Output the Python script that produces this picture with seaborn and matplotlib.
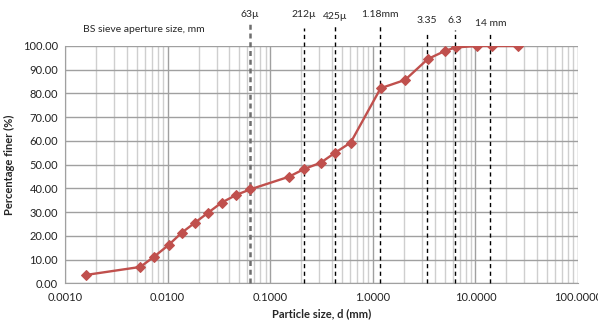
import matplotlib
matplotlib.use("Agg")
import matplotlib.pyplot as plt
import numpy as np
import pandas as pd
import seaborn as sns

# grading curve
size_mm = [0.00159, 0.00542, 0.00737, 0.0102, 0.0137, 0.0184, 0.0249, 0.0336,
           0.0464, 0.064, 0.152, 0.215, 0.31, 0.428, 0.608, 1.19, 2.06, 3.43,
           5.09, 6.43, 10.4, 14.4, 25.8]
pct_finer = [3.5, 6.9, 11.2, 16.1, 21.3, 25.5, 29.8, 34.0, 37.2, 39.6, 44.9,
             48.2, 50.8, 55.0, 59.3, 82.2, 85.7, 94.5, 98.0, 99.4, 100.0, 100.0, 100.0]

# BS sieve apertures marked with dashed lines
sieve_mm = [0.063, 0.212, 0.425, 1.18, 3.35, 6.3, 14.0]
sieve_labels = ["63\u00b5", "212\u00b5", "425\u00b5", "1.18mm", "3.35", "6.3", "14 mm"]
label_y = [1.132, 1.132, 1.125, 1.132, 1.107, 1.107, 1.093]
line_top = [1.101, 1.075, 1.088, 1.088, 1.062, 1.066, 1.053]

sns.set_style("white")
plt.rcParams['font.family'] = ['Lato', 'DejaVu Sans']

df = pd.DataFrame({"d": size_mm, "p": pct_finer})

fig = plt.figure(figsize=(5.98, 3.23), dpi=100)
ax = fig.add_axes([0.1087, 0.1229, 0.858, 0.7347])

ax.set_xscale("log")
ax.set_xlim(0.001, 100)
ax.set_ylim(0, 100)
ax.set_yticks(np.arange(0, 101, 10))
ax.yaxis.set_major_formatter(matplotlib.ticker.FormatStrFormatter("%.2f"))
ax.xaxis.set_major_formatter(matplotlib.ticker.FuncFormatter(lambda v, p: "%.4f" % v))
ax.xaxis.set_minor_locator(matplotlib.ticker.LogLocator(base=10, subs=np.arange(2, 10)))
ax.xaxis.set_minor_formatter(matplotlib.ticker.NullFormatter())

ax.grid(True, which="major", color="#a0a0a0", lw=1.0)
ax.grid(True, which="minor", axis="x", color="#cfcfcf", lw=1.0)
ax.set_axisbelow(True)
for s in ["top", "right"]:
    ax.spines[s].set_visible(False)
ax.spines["left"].set_color("#a0a0a0")
ax.spines["bottom"].set_color("#a0a0a0")
ax.tick_params(axis="both", labelsize=8, length=0, pad=5, labelcolor="#222222")
ax.tick_params(axis="x", which="major", length=4, color="#a0a0a0", direction="in", pad=6)

sns.lineplot(data=df, x="d", y="p", ax=ax, color="#c0504d", lw=1.7,
             marker="D", markersize=5, markeredgecolor="#c0504d", zorder=5)

for i, (d, lab) in enumerate(zip(sieve_mm, sieve_labels)):
    if i == 0:
        ax.plot([d, d], [0, line_top[i]], transform=ax.get_xaxis_transform(),
                color="#6e6e6e", lw=1.8, ls=(0, (2, 1.5)), clip_on=False, zorder=4)
    else:
        ax.plot([d, d], [0, line_top[i]], transform=ax.get_xaxis_transform(),
                color="black", lw=1.0, ls=(0, (3, 2.5)), clip_on=False, zorder=4)
    ax.text(d, label_y[i], lab, transform=ax.get_xaxis_transform(),
            ha="center", va="center", fontsize=7.5)

ax.text(0.0015, 1.068, "BS sieve aperture size, mm", transform=ax.get_xaxis_transform(),
        ha="left", va="center", fontsize=7.5)

ax.set_xlabel("Particle size, d (mm)", fontsize=8, fontweight="bold", labelpad=4)
ax.set_ylabel("Percentage finer (%)", fontsize=8, fontweight="bold", labelpad=6)

fig.savefig("out.png", dpi=100)
